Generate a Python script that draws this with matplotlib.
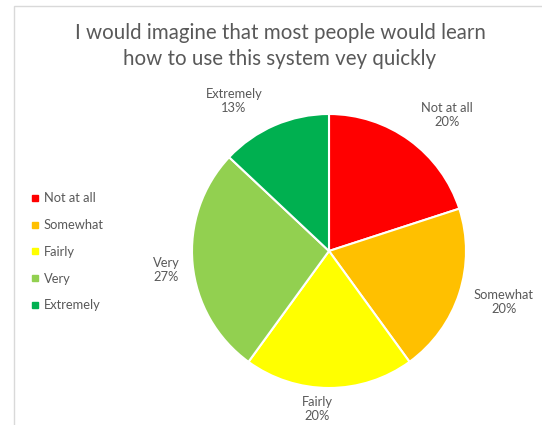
import matplotlib
matplotlib.use("Agg")
import matplotlib.pyplot as plt
from matplotlib.lines import Line2D
from matplotlib.patches import Rectangle

plt.rcParams['font.family'] = ['Lato', 'DejaVu Sans']

# Survey responses
categories = ["Not at all", "Somewhat", "Fairly", "Very", "Extremely"]
shares = [20, 20, 20, 27, 13]
colors = ["#FF0000", "#FFC000", "#FFFF00", "#92D050", "#00B050"]
title = "I would imagine that most people would learn\nhow to use this system vey quickly"

W, H = 542, 425
TEXT = "#595959"

fig = plt.figure(figsize=(W / 100, H / 100), dpi=100)
ax = fig.add_axes([0, 0, 1, 1])

# chart area border
ax.add_patch(Rectangle((14, -5), W + 10, H - 6 + 5, fill=False,
                       edgecolor="#D9D9D9", linewidth=1.0))

cx, cy, r = 329, H - 251, 137
wedges, _ = ax.pie(shares, colors=colors, startangle=90, counterclock=False,
                   center=(cx, cy), radius=r, frame=True,
                   wedgeprops=dict(edgecolor="white", linewidth=1.5))
ax.set_xlim(0, W)
ax.set_ylim(0, H)
ax.set_aspect("equal")
ax.axis("off")

# data label anchor points (pixel space, y measured from top)
label_pos = [(447, 115), (504, 302), (317, 409), (166, 270), (234, 101)]
for cat, val, (lx, ly) in zip(categories, shares, label_pos):
    ax.text(lx, H - ly, f"{cat}\n{val}%", ha="center", va="center",
            fontsize=9.3, color=TEXT, linespacing=1.25)

fig.text(280 / W, 1 - 46 / H, title, ha="center", va="center",
         fontsize=14.8, color=TEXT, linespacing=1.4)

handles = [Line2D([], [], marker="s", linestyle="none", markersize=5,
                  markerfacecolor=c, markeredgecolor=c) for c in colors]
leg = ax.legend(handles, categories, loc="upper left",
                bbox_to_anchor=(25 / W, 1 - 186 / H), bbox_transform=fig.transFigure,
                frameon=False, fontsize=9.3, handlelength=0.6, handletextpad=0.35,
                labelspacing=1.14, borderpad=0)
for t in leg.get_texts():
    t.set_color(TEXT)

fig.savefig("out.png", dpi=100)
